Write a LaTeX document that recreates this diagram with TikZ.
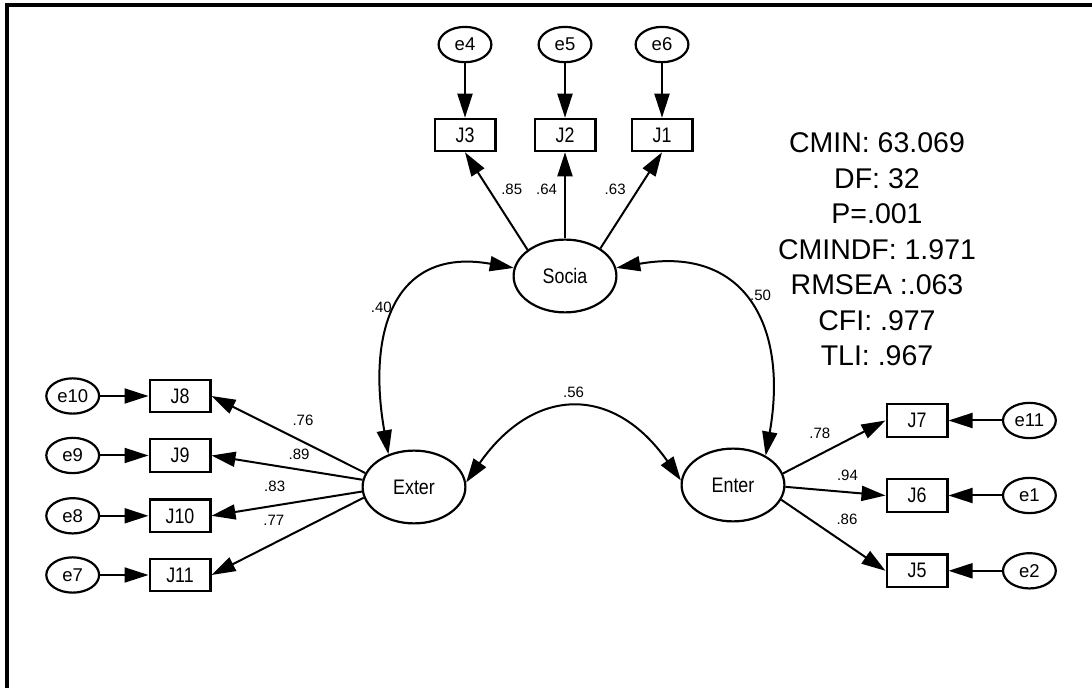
\documentclass[tikz,border=0pt]{standalone}
\usepackage{fontspec}
\setmainfont{Liberation Sans}
\newfontfamily\narrowsans{Liberation Sans}[FakeStretch=0.85]
\usetikzlibrary{shapes.geometric, arrows.meta, positioning}

\begin{document}
\begin{tikzpicture}[
  x=1pt, y=1pt,
  font=\fontsize{18.5}{20}\selectfont,
  latent/.style={ellipse, draw, line width=2.2pt, minimum width=102.8pt,
                 minimum height=72.8pt, inner sep=0pt,
                 font=\narrowsans\fontsize{21}{24}\selectfont},
  item/.style={rectangle, draw, line width=2.2pt, minimum width=60.8pt,
               minimum height=32.4pt, inner sep=0pt,
               font=\narrowsans\fontsize{21}{24}\selectfont},
  err/.style={ellipse, draw, line width=2.2pt, minimum width=52.8pt,
              minimum height=35.3pt, inner sep=0pt,
              font=\fontsize{18.5}{20}\selectfont},
  load/.style={-{Triangle[length=24pt, width=15pt]}, line width=2pt},
  cov/.style={{Triangle[length=24pt, width=15pt]}-{Triangle[length=24pt, width=15pt]},
              line width=2pt},
  coef/.style={font=\fontsize{15}{17}\selectfont, inner sep=0pt},
  fitstats/.style={align=center, inner sep=0pt,
                   font=\fontsize{28.5}{35.5}\selectfont},
  frameline/.style={line width=3.5pt, line join=miter},
  node distance=50pt
]
  \useasboundingbox (0,0) rectangle (1092,688);
  \draw[frameline] (7,0) -- (7,683) -- (1092,683);

  \node[latent] (socia) at (565,412) {Socia};
  \node[latent] (exter) at (414,201) {Exter};
  \node[latent] (enter) at (733,203) {Enter};

  \node[item] (j3)  at (465,553)   {J3};
  \node[item] (j2)  at (565,553)   {J2};
  \node[item] (j1)  at (662,553)   {J1};
  \node[item] (j8)  at (180,292)   {J8};
  \node[item] (j9)  at (180,232.5) {J9};
  \node[item] (j10) at (180,172.2) {J10};
  \node[item] (j11) at (180,113)   {J11};
  \node[item] (j7)  at (917,267.5) {J7};
  \node[item] (j6)  at (917,192.5) {J6};
  \node[item] (j5)  at (917,117.2) {J5};

  \node[err, above=54.4pt of j3] (e4)  {e4};
  \node[err, above=54.4pt of j2] (e5)  {e5};
  \node[err, above=54.4pt of j1] (e6)  {e6};
  \node[err, left=48.3pt of j8]  (e10) {e10};
  \node[err, left=48.3pt of j9]  (e9)  {e9};
  \node[err, left=48.3pt of j10] (e8)  {e8};
  \node[err, left=48.3pt of j11] (e7)  {e7};
  \node[err, right=53.4pt of j7] (e11) {e11};
  \node[err, right=53.4pt of j6] (e1)  {e1};
  \node[err, right=53.4pt of j5] (e2)  {e2};

  \draw[load] (e4) -- (j3);
  \draw[load] (e5) -- (j2);
  \draw[load] (e6) -- (j1);
  \draw[load] (e10) -- (j8);
  \draw[load] (e9) -- (j9);
  \draw[load] (e8) -- (j10);
  \draw[load] (e7) -- (j11);
  \draw[load] (e11) -- (j7);
  \draw[load] (e1) -- (j6);
  \draw[load] (e2) -- (j5);

  \draw[load] (socia.145) -- (j3.south) node[coef, pos=0.62, right=11.5pt] (c85) {.85};
  \draw[load] (socia) -- (j2) node[coef, pos=0.57, left=7pt] (c64) {.64};
  \draw[load] (socia.38) -- (j1.south) node[coef, pos=0.615, left=11.7pt] (c63) {.63};

  \draw[load] (exter.164) -- (j8.east)  node[coef, pos=0.405, above=15pt] (c76) {.76};
  \draw[load] (exter.172) -- (j9.east)  node[coef, pos=0.42, above=9pt]   (c89) {.89};
  \draw[load] (exter.185) -- (j10.east) node[coef, pos=0.58, above=13pt]  (c83) {.83};
  \draw[load] (exter.192) -- (j11.east) node[coef, pos=0.59, above=17pt]  (c77) {.77};

  \draw[load] (enter.13)  -- (j7.west) node[coef, pos=0.36, above=15pt]   (c78) {.78};
  \draw[load] (enter.-2)  -- (j6.west) node[coef, pos=0.62, above=10.5pt] (c94) {.94};
  \draw[load] (enter.-17) -- (j5.west) node[coef, pos=0.63, above=19pt]   (c86) {.86};

  \draw[cov] (socia.171) to[out=170, in=100, looseness=1.4]
    node[coef, midway, left=5pt] (c40) {.40} (exter.128);
  \draw[cov] (socia.9) to[out=10, in=80, looseness=1.4]
    node[coef, pos=0.45, right=9pt] (c50) {.50} (enter.42);
  \draw[cov] (exter.5) to[out=55, in=125, looseness=1.4]
    node[coef, midway, above=10pt] (c56) {.56} (enter.175);

  \node[fitstats] (stats) at (877,438.4)
    {CMIN: 63.069\\ DF: 32\\ P=.001\\ CMINDF: 1.971\\ RMSEA :.063\\ CFI: .977\\ TLI: .967};
\end{tikzpicture}
\end{document}
